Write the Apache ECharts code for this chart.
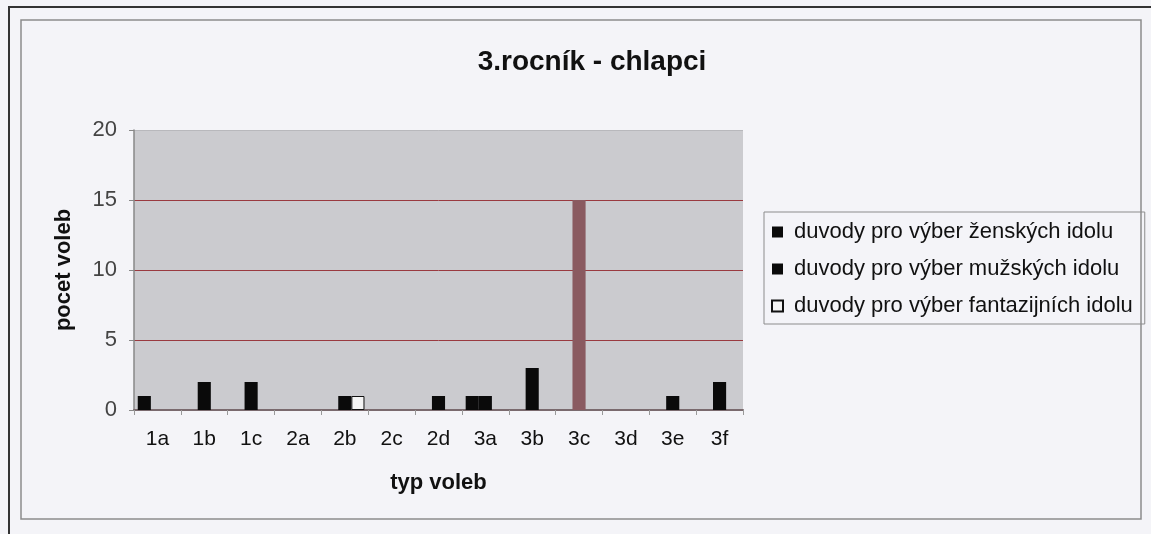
<!DOCTYPE html>
<html lang="cs">
<head>
    <meta charset="UTF-8">
    <title>3.ročník - chlapci</title>
    <script src="https://cdn.jsdelivr.net/npm/echarts@6/dist/echarts.min.js"></script>
    <style>
        html, body { margin: 0; padding: 0; background: #f4f4f8; }
        #chart { width: 1151px; height: 534px; }
    </style>
</head>
<body>
<div id="chart"></div>
<script type="text/javascript">
    // data
    var categories = ['1a', '1b', '1c', '2a', '2b', '2c', '2d', '3a', '3b', '3c', '3d', '3e', '3f'];
    var zenske = [1, 0, 0, 0, 0, 0, 0, 1, 0, 0, 0, 0, 0];
    var muzske = [0, 2, 2, 0, 1, 0, 1, 1, 3, 15, 0, 1, 2];
    var fantazijni = [0, 0, 0, 0, 1, 0, 0, 0, 0, 0, 0, 0, 0];
    var seriesNames = [
        'duvody pro výber ženských idolu',
        'duvody pro výber mužských idolu',
        'duvody pro výber fantazijních idolu'
    ];

    var chart = echarts.init(document.getElementById('chart'));
    var font = 'Liberation Sans, Arial, sans-serif';

    // zero bars are not drawn at all (no outline line on the axis)
    function noZero(arr) {
        return arr.map(function (v) { return v === 0 ? '-' : v; });
    }

    // the tall 3c bar shows up maroon in the scan
    var muzskeData = noZero(muzske).map(function (v, i) {
        if (categories[i] === '3c') {
            return { value: v, itemStyle: { color: '#8a5a60' } };
        }
        return v;
    });

    var option = {
        animation: false,
        backgroundColor: '#f4f4f8',
        title: {
            text: '3.rocník - chlapci',
            left: 587,
            textAlign: 'center',
            top: 43,
            textStyle: { fontFamily: font, fontSize: 28, fontWeight: 'bold', color: '#111' }
        },
        graphic: [
            {
                type: 'rect',
                shape: { x: 21, y: 20, width: 1120, height: 499 },
                style: { fill: null, stroke: '#8c8c8c', lineWidth: 1.5 }
            },
            {
                type: 'polyline',
                shape: { points: [[9, 534], [9, 7], [1151, 7]] },
                style: { fill: null, stroke: '#333', lineWidth: 2 }
            }
        ],
        legend: {
            orient: 'vertical',
            left: 764,
            top: 212,
            itemWidth: 11,
            itemHeight: 11,
            itemGap: 15,
            padding: [9, 12, 7, 7],
            borderColor: '#8c8c8c',
            borderWidth: 1,
            icon: 'rect',
            textStyle: { fontFamily: font, fontSize: 22, color: '#111', padding: [0, 0, 0, 6] },
            data: seriesNames
        },
        grid: {
            left: 134,
            top: 130,
            width: 609,
            height: 280,
            show: true,
            backgroundColor: '#cbcbcf',
            borderWidth: 0
        },
        xAxis: {
            type: 'category',
            data: categories,
            name: 'typ voleb',
            nameLocation: 'middle',
            nameGap: 62,
            nameTextStyle: { fontFamily: font, fontSize: 22, fontWeight: 'bold', color: '#111' },
            axisLine: { lineStyle: { color: '#7a6a6e', width: 2 } },
            axisTick: { show: true, length: 5, lineStyle: { color: '#999' } },
            axisLabel: { fontFamily: font, fontSize: 21, color: '#111', margin: 19 }
        },
        yAxis: {
            type: 'value',
            min: 0,
            max: 20,
            interval: 5,
            name: 'pocet voleb',
            nameLocation: 'middle',
            nameGap: 59,
            nameTextStyle: { fontFamily: font, fontSize: 22, fontWeight: 'bold', color: '#111' },
            axisLine: { show: true, lineStyle: { color: '#888', width: 1.5 } },
            axisTick: { show: true, length: 5, lineStyle: { color: '#888' } },
            axisLabel: { fontFamily: font, fontSize: 22, color: '#444', margin: 17 },
            splitLine: {
                lineStyle: {
                    color: ['#9a3a40', '#9a3a40', '#9a3a40', '#9a3a40', '#b8b8bc'],
                    width: 1
                }
            }
        },
        series: [
            {
                name: seriesNames[0],
                type: 'bar',
                data: noZero(zenske),
                barGap: '0%',
                barCategoryGap: '16%',
                itemStyle: { color: '#0a0a0a' }
            },
            {
                name: seriesNames[1],
                type: 'bar',
                data: muzskeData,
                itemStyle: { color: '#0a0a0a' }
            },
            {
                name: seriesNames[2],
                type: 'bar',
                data: noZero(fantazijni),
                itemStyle: { color: '#f4f4f4', borderColor: '#111', borderWidth: 1 }
            }
        ]
    };

    chart.setOption(option);
</script>
</body>
</html>
